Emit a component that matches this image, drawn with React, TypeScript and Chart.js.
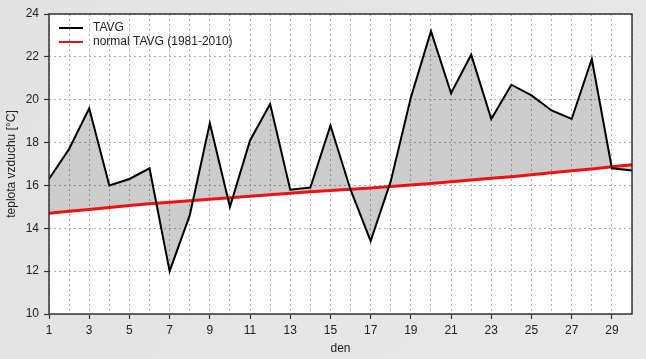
import React, { useEffect, useRef } from "react";
import { Chart, registerables } from "chart.js";

Chart.register(...registerables);

const days: number[] = Array.from({ length: 30 }, (_, i) => i + 1);
const tavg: number[] = [
  16.3, 17.7, 19.6, 16.0, 16.3, 16.8, 12.0, 14.6, 18.9, 15.0,
  18.1, 19.8, 15.8, 15.9, 18.8, 15.8, 13.4, 16.2, 20.1, 23.2,
  20.3, 22.1, 19.1, 20.7, 20.2, 19.5, 19.1, 21.9, 16.8, 16.7,
];
const normal: number[] = [
  14.70, 14.79, 14.88, 14.97, 15.06, 15.15, 15.22, 15.29, 15.36, 15.43,
  15.50, 15.57, 15.64, 15.70, 15.76, 15.82, 15.88, 15.95, 16.02, 16.09,
  16.17, 16.25, 16.33, 16.41, 16.50, 16.59, 16.68, 16.77, 16.87, 16.97,
];
const seriesLabels = ["TAVG", "normal TAVG (1981-2010)"];
const xTitle = "den";
const yTitle = "teplota vzduchu [°C]";

const FONT = "'Liberation Sans', Arial, sans-serif";

export default function App() {
  const ref = useRef<HTMLCanvasElement | null>(null);
  useEffect(() => {
    const canvas = ref.current;
    if (!canvas) return;
    const bgPlugin = {
      id: "bg",
      beforeDraw(chart: any) {
        const { ctx, chartArea: a, width, height } = chart;
        ctx.save();
        const g = ctx.createLinearGradient(0, 0, width, height);
        g.addColorStop(0, "#e2e2e2");
        g.addColorStop(1, "#e8e8e8");
        ctx.fillStyle = g;
        ctx.fillRect(0, 0, width, height);
        ctx.fillStyle = "#ffffff";
        ctx.fillRect(a.left, a.top, a.right - a.left, a.bottom - a.top);
        ctx.restore();
      },
      afterDraw(chart: any) {
        const { ctx, chartArea: a } = chart;
        ctx.save();
        ctx.strokeStyle = "#333333";
        ctx.lineWidth = 1.5;
        ctx.strokeRect(a.left, a.top, a.right - a.left, a.bottom - a.top);
        // legend
        const items = [
          { color: "#000000", text: seriesLabels[0], y: a.top + 14 },
          { color: "#ee1111", text: seriesLabels[1], y: a.top + 28 },
        ];
        ctx.font = `12px ${FONT}`;
        ctx.textBaseline = "middle";
        ctx.textAlign = "left";
        for (const it of items) {
          ctx.strokeStyle = it.color;
          ctx.lineWidth = 2;
          ctx.beginPath();
          ctx.moveTo(a.left + 10, it.y);
          ctx.lineTo(a.left + 34, it.y);
          ctx.stroke();
          ctx.fillStyle = "#222222";
          ctx.fillText(it.text, a.left + 44, it.y);
        }
        ctx.restore();
      },
    };

    const chart = new Chart(canvas, {
      type: "line",
      data: {
        labels: days,
        datasets: [
          {
            label: seriesLabels[0],
            data: days.map((d, i) => ({ x: d, y: tavg[i] })),
            borderColor: "#000000",
            borderWidth: 2,
            pointRadius: 0,
            tension: 0,
            fill: { target: 1, above: "rgba(0,0,0,0.2)", below: "rgba(0,0,0,0.2)" },
          },
          {
            label: seriesLabels[1],
            data: days.map((d, i) => ({ x: d, y: normal[i] })),
            borderColor: "#ee1111",
            borderWidth: 3,
            pointRadius: 0,
            tension: 0,
            fill: false,
          },
        ],
      },
      options: {
        responsive: false,
        animation: false,
        layout: { padding: { top: 14, right: 14, left: 0, bottom: 0 } },
        plugins: {
          legend: { display: false },
          tooltip: { enabled: false },
          filler: { drawTime: "beforeDatasetsDraw" },
        },
        scales: {
          x: {
            type: "linear",
            min: 1,
            max: 30,
            afterFit(scale: any) {
              scale.height = 45;
            },
            ticks: {
              stepSize: 1,
              autoSkip: false,
              maxRotation: 0,
              padding: 4,
              color: "#222222",
              font: { family: FONT, size: 12 },
              callback: (v: any) => (Number(v) % 2 === 1 ? String(v) : ""),
            },
            grid: {
              color: "#b0b0b0",
              lineWidth: 1,
              tickLength: 5,
              tickColor: (c: any) => (c.tick && c.tick.value % 2 === 1 ? "#333333" : "rgba(0,0,0,0)"),
              tickBorderDash: [],
              tickWidth: 1.2,
            },
            border: { display: false, dash: [2, 3] },
            title: {
              display: true,
              text: xTitle,
              color: "#222222",
              font: { family: FONT, size: 12 },
              padding: { top: 2, bottom: 3 },
            },
          },
          y: {
            min: 10,
            max: 24,
            afterFit(scale: any) {
              scale.width = 49;
            },
            ticks: {
              stepSize: 2,
              padding: 5,
              color: "#222222",
              font: { family: FONT, size: 12 },
            },
            grid: {
              color: "#b0b0b0",
              lineWidth: 1,
              tickLength: 5,
              tickColor: "#333333",
              tickBorderDash: [],
              tickWidth: 1.2,
            },
            border: { display: false, dash: [2, 3] },
            title: {
              display: true,
              text: yTitle,
              color: "#222222",
              font: { family: FONT, size: 12 },
              padding: { top: 4, bottom: 2 },
            },
          },
        },
      },
      plugins: [bgPlugin],
    } as any);
    return () => chart.destroy();
  }, []);

  return (
    <div style={{ position: "fixed", left: 0, top: 0, width: 646, height: 359 }}>
      <canvas ref={ref} width={646} height={359} style={{ display: "block" }} />
    </div>
  );
}
